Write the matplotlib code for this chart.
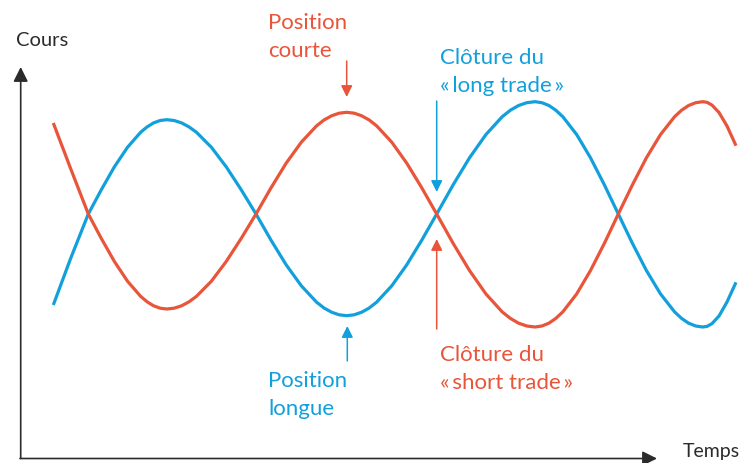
import matplotlib
matplotlib.use("Agg")
import matplotlib.pyplot as plt

plt.rcParams['font.family'] = ['Lato', 'DejaVu Sans']

# readings: time (x) and height from top (y)
blue_t = [53.3, 70.8, 88.3, 101.4, 114.4, 127.5, 140.6, 147.1, 153.6, 160.2, 166.7,
          174.1, 181.6, 189.0, 196.5, 211.4, 226.2, 241.1, 256,
          271.1, 286.2, 301.4, 316.5, 324, 331.6, 339.1, 346.7,
          354.2, 361.7, 369.2, 376.7, 391.7, 406.7, 421.7, 436.7,
          453.1, 469.5, 485.9, 502.2, 510.4, 518.6, 526.8, 535,
          541.9, 548.9, 555.8, 562.8, 576.7, 590.5, 604.4, 618.3,
          632.4, 646.4, 660.5, 674.6, 681.6, 688.6, 695.7, 702.7,
          707, 712, 719, 727, 736]
blue_y = [306, 259, 215, 190.6, 167.8, 148.3, 133.3, 127.9, 123.9, 121.5, 120.7,
          121.5, 123.9, 127.9, 133.3, 148.3, 167.8, 190.6, 215,
          241.3, 265.9, 286.9, 303.1, 309.0, 313.2, 315.8, 316.7,
          315.8, 313.2, 309.0, 303.1, 286.9, 265.9, 241.3, 215,
          185.9, 158.8, 135.6, 117.7, 111.2, 106.5, 103.7, 102.7,
          103.7, 106.5, 111.2, 117.7, 135.6, 158.8, 185.9, 215,
          244.3, 271.5, 294.9, 312.9, 319.4, 324.2, 327.0, 328,
          327.4, 324.6, 317, 303, 283.3]

orange_t = blue_t
orange_y = [124, 170, 215, 239.6, 262.5, 282.2, 297.3, 302.8, 306.8, 309.2, 310,
            309.2, 306.8, 302.8, 297.3, 282.2, 262.5, 239.6, 215,
            188.7, 164.1, 143.1, 126.9, 121.0, 116.8, 114.2, 113.3,
            114.2, 116.8, 121.0, 126.9, 143.1, 164.1, 188.7, 215,
            244.3, 271.5, 294.9, 312.9, 319.4, 324.2, 327.0, 328,
            327.0, 324.2, 319.4, 312.9, 294.9, 271.5, 244.3, 215,
            185.9, 158.8, 135.6, 117.7, 111.2, 106.5, 103.7, 102.7,
            103.3, 106.1, 113.5, 127, 146.7]

blue = "#12a0dc"
orange = "#e8553a"
dark = "#2b2b2b"

fig = plt.figure(figsize=(7.42, 4.64), dpi=100)
ax = fig.add_axes([0, 0, 1, 1])
ax.set_xlim(0, 742)
ax.set_ylim(464, 0)
ax.axis("off")

ax.plot(blue_t, blue_y, color=blue, lw=2.3, solid_capstyle="butt",
        solid_joinstyle="round")
ax.plot(orange_t, orange_y, color=orange, lw=2.3, solid_capstyle="butt",
        solid_joinstyle="round")

# axes with arrows
axis_arrow = dict(arrowstyle="-|>", color=dark, lw=1.2, mutation_scale=22,
                  shrinkA=0, shrinkB=0)
ax.annotate("", xy=(20.7, 68), xytext=(20.7, 459.5), arrowprops=axis_arrow)
ax.annotate("", xy=(657, 459.5), xytext=(20, 459.5), arrowprops=axis_arrow)
ax.text(16, 40, "Cours", fontsize=14.5, color=dark, va="center", ha="left")
ax.text(683, 452, "Temps", fontsize=14, color=dark, va="center", ha="left")

# annotations
def pointer(x, y0, y1, col):
    ax.annotate("", xy=(x, y1), xytext=(x, y0),
                arrowprops=dict(arrowstyle="-|>", color=col, lw=1.1,
                                mutation_scale=17, shrinkA=0, shrinkB=0))

pointer(346.7, 62, 98, orange)
pointer(436.7, 102, 193, blue)
pointer(347.3, 362, 327, blue)
pointer(436.7, 330, 240, orange)

txt = dict(fontsize=16, ha="left", va="center", linespacing=1.55)
ax.text(268, 37, "Position\ncourte", color=orange, **txt)
ax.text(440, 72, "Clôture du\n«\u2009long trade\u2009»", color=blue, **txt)
ax.text(268, 395, "Position\nlongue", color=blue, **txt)
ax.text(440, 369, "Clôture du\n«\u2009short trade\u2009»", color=orange, **txt)

fig.savefig("out.png", dpi=100)
